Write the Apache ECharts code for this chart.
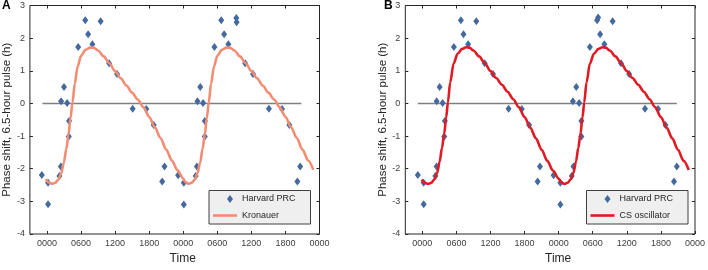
<!DOCTYPE html>
<html><head><meta charset="utf-8">
<script src="https://cdn.jsdelivr.net/npm/echarts@6/dist/echarts.min.js"></script>
<style>html,body{margin:0;padding:0;background:#fff}#c{width:708px;height:270px}</style>
</head><body><div id="c"></div>
<script>
// ---- Data ----
const xTickValues = [0, 6, 12, 18, 24, 30, 36, 42, 48];
const xTickLabels = ['0000','0600','1200','1800','0000','0600','1200','1800','0000'];
const zeroLineX = [-0.8, 44.8];

// Harvard PRC, panel A (hours, phase shift h)
const prcHoursA = [-0.9, 0.2, 0.2, 2.2, 2.45, 2.5, 3.0, 3.55, 3.9, 3.85, 5.5, 6.75, 7.25, 8.0, 9.45, 10.95, 12.35, 15.1, 17.5, 18.8, 20.3, 20.7,
  23.1, 24.1, 24.1, 26.2, 26.4, 26.5, 27.0, 27.5, 27.8, 27.8, 29.5, 30.7, 31.2, 31.95, 33.35, 33.4, 34.9, 36.3, 39.1, 41.4, 42.7, 44.1, 44.6];
const prcShiftA = [-2.19, -2.43, -3.09, -2.22, -1.93, 0.07, 0.50, 0.01, -0.54, -1.01, 1.73, 2.55, 2.12, 1.81, 2.52, 1.23, 0.90, -0.16, -0.17, -0.66, -2.39, -1.93,
  -2.20, -2.43, -3.10, -2.22, -1.93, 0.07, 0.50, 0.01, -0.54, -1.01, 1.73, 2.55, 2.12, 1.81, 2.62, 2.49, 1.23, 0.90, -0.16, -0.17, -0.66, -2.39, -1.93];
// Harvard PRC, panel B
const prcHoursB = [-0.8, 0.24, 0.24, 2.3, 2.5, 2.52, 3.04, 3.57, 3.97, 3.86, 5.55, 6.78, 7.25, 8.06, 9.5, 10.98, 12.44, 15.18, 17.5, 18.8, 20.3, 20.7,
  23.1, 24.3, 24.3, 26.3, 26.6, 26.5, 27.1, 27.6, 28.0, 28.0, 29.5, 30.77, 30.95, 31.3, 32.05, 33.5, 34.97, 36.4, 39.2, 41.5, 42.8, 44.3, 44.8];
const prcShiftB = [-2.19, -2.43, -3.09, -2.22, -1.93, 0.07, 0.50, 0.01, -0.54, -1.01, 1.73, 2.55, 2.12, 1.81, 2.52, 1.23, 0.90, -0.16, -0.17, -0.66, -2.39, -1.93,
  -2.20, -2.43, -3.10, -2.22, -1.93, 0.07, 0.50, 0.01, -0.54, -1.01, 1.73, 2.55, 2.63, 2.12, 1.81, 2.52, 1.23, 0.90, -0.16, -0.17, -0.66, -2.39, -1.93];

// Kronauer model curve (panel A)
const kronHours = [-0.2, 0.3, 0.9, 1.5, 2.0, 2.5, 3.0, 3.4, 3.8, 4.15, 4.5, 4.9, 5.4, 6.0, 6.8, 7.6, 8.2, 9.0, 10.0, 11.0, 12.0, 13.0, 14.0, 15.0, 16.0, 17.0, 18.0, 19.0, 20.0, 21.0, 22.0, 23.0,
  24.0, 24.3, 24.9, 25.5, 26.0, 26.5, 27.0, 27.4, 27.8, 28.15, 28.5, 28.9, 29.4, 30.0, 30.8, 31.6, 32.2, 33.0, 34.0, 35.0, 36.0, 37.0, 38.0, 39.0, 40.0, 41.0, 42.0, 43.0, 44.0, 45.0, 46.0, 46.9];
const kronShift = [-2.32, -2.42, -2.46, -2.43, -2.34, -2.15, -1.80, -1.40, -0.95, -0.45, 0.03, 0.60, 1.12, 1.46, 1.64, 1.71, 1.71, 1.62, 1.44, 1.23, 0.99, 0.77, 0.55, 0.33, 0.12, -0.12, -0.41, -0.73, -1.06, -1.41, -1.75, -2.05,
  -2.30, -2.40, -2.46, -2.43, -2.34, -2.15, -1.80, -1.40, -0.95, -0.45, 0.03, 0.60, 1.12, 1.46, 1.64, 1.71, 1.71, 1.62, 1.44, 1.23, 0.99, 0.77, 0.55, 0.33, 0.12, -0.12, -0.41, -0.73, -1.06, -1.41, -1.75, -2.03];
// CS oscillator model curve (panel B)
const csHours = [-0.1, 0.4, 1.0, 1.6, 2.1, 2.6, 3.05, 3.45, 3.85, 4.2, 4.5, 4.9, 5.5, 6.2, 7.0, 7.7, 8.3, 9.0, 10.0, 11.0, 12.0, 13.0, 14.0, 15.0, 16.0, 17.0, 18.0, 19.0, 20.0, 21.0, 22.0, 23.0,
  24.0, 24.4, 25.0, 25.6, 26.1, 26.6, 27.05, 27.45, 27.85, 28.2, 28.5, 28.9, 29.5, 30.2, 31.0, 31.7, 32.3, 33.0, 34.0, 35.0, 36.0, 37.0, 38.0, 39.0, 40.0, 41.0, 42.0, 43.0, 44.0, 45.0, 46.0, 46.9];
const csShift = [-2.33, -2.43, -2.47, -2.43, -2.33, -2.13, -1.78, -1.37, -0.92, -0.42, 0.03, 0.64, 1.22, 1.52, 1.67, 1.72, 1.71, 1.62, 1.44, 1.23, 0.99, 0.78, 0.57, 0.36, 0.13, -0.12, -0.42, -0.74, -1.07, -1.42, -1.76, -2.06,
  -2.30, -2.41, -2.47, -2.43, -2.33, -2.13, -1.78, -1.37, -0.92, -0.42, 0.03, 0.64, 1.22, 1.52, 1.67, 1.72, 1.71, 1.62, 1.44, 1.23, 0.99, 0.78, 0.57, 0.36, 0.13, -0.12, -0.42, -0.74, -1.07, -1.42, -1.76, -2.04];

// ---- Build ----
const zip = (xs, ys) => xs.map((x, i) => [x, ys[i]]);
const FONT = '"Liberation Sans", Arial, Helvetica, sans-serif';
const frame = '#262626';
const tickCol = '#404040';
const diamondColor = '#43699e';
const diamondIcon = 'path://M0,4 M17,0 L20,4 L17,8 L14,4 Z M24,4';
const lineIcon = 'path://M0,0 L24,0 L24,2.6 L0,2.6 Z';

const grids = [
  {left: 28, top: 5.5, width: 291.5, height: 229.2},
  {left: 405.3, top: 5.5, width: 291.2, height: 229.2}
].map(g => Object.assign(g, {show: true, borderColor: frame, borderWidth: 1, backgroundColor: 'transparent'}));

function xAxes(gi) {
  const base = {
    type: 'value', gridIndex: gi, min: -3, max: 48,
    axisLine: {show: false, onZero: false}, splitLine: {show: false},
    axisTick: {show: true, inside: true, length: 3, customValues: xTickValues, lineStyle: {color: frame}}
  };
  return [
    Object.assign({}, base, {
      position: 'bottom',
      axisLabel: {customValues: xTickValues, formatter: v => xTickLabels[xTickValues.indexOf(v)],
        fontSize: 9, color: tickCol, margin: 5, fontFamily: FONT},
      name: 'Time', nameLocation: 'middle', nameGap: 19,
      nameTextStyle: {fontSize: 12, color: '#262626', fontFamily: FONT, padding: [0, 0, 0, 16]}
    }),
    Object.assign({}, base, {position: 'top', axisLabel: {show: false}})
  ];
}
function yAxes(gi) {
  const base = {
    type: 'value', gridIndex: gi, min: -4, max: 3, interval: 1,
    axisLine: {show: false, onZero: false}, splitLine: {show: false},
    axisTick: {show: true, inside: true, length: 3, lineStyle: {color: frame}}
  };
  return [
    Object.assign({}, base, {
      position: 'left',
      axisLabel: {fontSize: 9, color: tickCol, margin: 5, fontFamily: FONT},
      name: 'Phase shift, 6.5-hour pulse (h)', nameLocation: 'middle', nameGap: 12,
      nameTextStyle: {fontSize: 11.5, color: '#262626', fontFamily: FONT}
    }),
    Object.assign({}, base, {position: 'right', axisLabel: {show: false}})
  ];
}

function panelSeries(gi, px, py, modelName, mx, my, color) {
  const xi = gi * 2, yi = gi * 2;
  return [
    {type: 'line', name: '_zero' + gi, xAxisIndex: xi, yAxisIndex: yi, data: zeroLineX.map(x => [x, 0]),
     symbol: 'none', silent: true, lineStyle: {color: '#7f7f7f', width: 1.6}, z: 1},
    {type: 'scatter', name: 'Harvard PRC', xAxisIndex: xi, yAxisIndex: yi, data: zip(px, py),
     symbol: 'diamond', symbolSize: [6, 8], itemStyle: {color: diamondColor, opacity: 1}, z: 2},
    {type: 'line', name: modelName, xAxisIndex: xi, yAxisIndex: yi, data: zip(mx, my),
     symbol: 'none', smooth: 0.3, smoothMonotone: 'x', lineStyle: {color: color, width: 2.6},
     itemStyle: {color: color}, z: 3}
  ];
}

function legendFor(left, modelName) {
  return {
    left: left, top: 190.5, orient: 'vertical',
    itemWidth: 24, itemHeight: 8, itemGap: 4.5,
    padding: [2.5, 15, 2.5, 4],
    backgroundColor: '#efefef', borderColor: '#404040', borderWidth: 1, borderRadius: 0,
    textStyle: {fontSize: 9, color: '#262626', fontFamily: FONT, lineHeight: 12},
    selectedMode: false,
    data: [{name: 'Harvard PRC', icon: diamondIcon}, {name: modelName, icon: lineIcon}]
  };
}

const option = {
  animation: false,
  textStyle: {fontFamily: FONT},
  title: [
    {text: 'A', left: 2, top: -0.5, padding: 0, textStyle: {fontSize: 12, fontWeight: 'bold', color: '#000', fontFamily: FONT}},
    {text: 'B', left: 384, top: -0.5, padding: 0, textStyle: {fontSize: 12, fontWeight: 'bold', color: '#000', fontFamily: FONT}}
  ],
  grid: grids,
  xAxis: [].concat(xAxes(0), xAxes(1)),
  yAxis: [].concat(yAxes(0), yAxes(1)),
  legend: [legendFor(209, 'Kronauer'), legendFor(586.5, 'CS oscillator')],
  series: [].concat(
    panelSeries(0, prcHoursA, prcShiftA, 'Kronauer', kronHours, kronShift, '#f28d74'),
    panelSeries(1, prcHoursB, prcShiftB, 'CS oscillator', csHours, csShift, '#df1b24')
  )
};
const chart = echarts.init(document.getElementById('c'), null, {renderer: 'canvas'});
chart.setOption(option);
</script></body></html>
